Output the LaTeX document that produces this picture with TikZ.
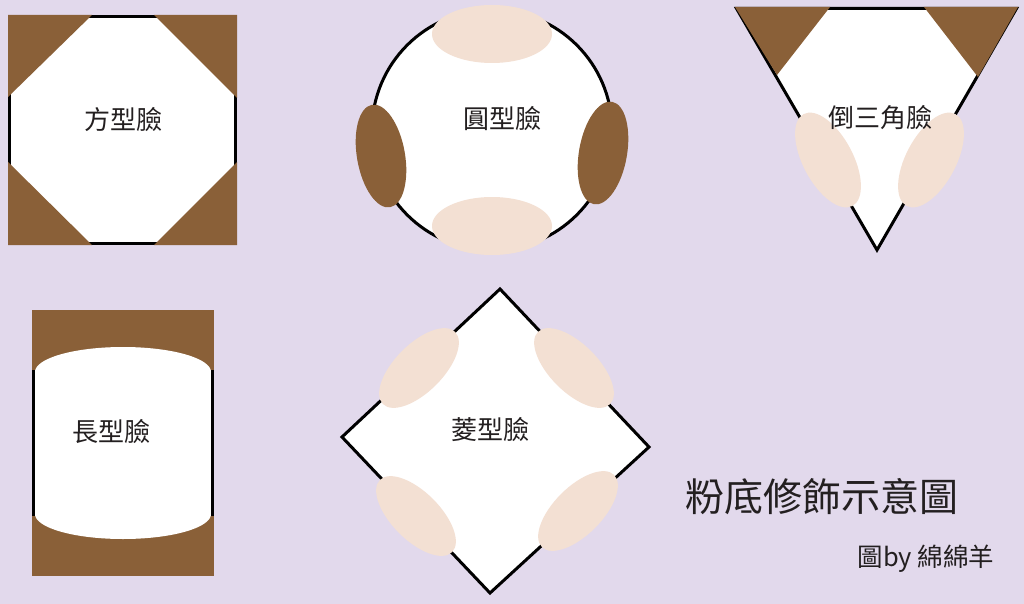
\documentclass[tikz,border=0pt]{standalone}
\usepackage{fontspec}
\setmainfont{Noto Sans CJK TC}
\definecolor{bg}{HTML}{E2D9EC}
\definecolor{brn}{HTML}{8A6038}
\definecolor{pch}{HTML}{F3E0D3}
\definecolor{txt}{HTML}{231F20}
\begin{document}
\begin{tikzpicture}[x=1pt,y=-1pt,
  face/.style={fill=white,draw=black,line width=3pt,line join=miter},
  shade/.style={fill=brn},
  blush/.style={fill=pch},
  lbl/.style={text=txt,font=\fontsize{26}{30}\selectfont,inner sep=0pt},
  title/.style={text=txt,font=\fontsize{39}{44}\selectfont,inner sep=0pt},
  credit/.style={text=txt,font=\fontsize{25.5}{28}\selectfont,inner sep=0pt}]
\fill[bg] (0,0) rectangle (1024,604);
\useasboundingbox (0,0) rectangle (1024,604);

% square face
\draw[face] (9.5,16.5) rectangle (235.5,243.5);
\fill[shade] (8,15) -- (92,15) -- (8,97) -- cycle;
\fill[shade] (154,15) -- (237,15) -- (237,98) -- cycle;
\fill[shade] (8,162) -- (8,245) -- (92,245) -- cycle;
\fill[shade] (237,162) -- (237,245) -- (154,245) -- cycle;
\node[lbl] (sq) at (123,120) {方型臉};

% round face
\draw[face] (492,130) circle [radius=120];
\fill[blush] (492,34) ellipse [x radius=60, y radius=29];
\fill[blush] (492,226) ellipse [x radius=60, y radius=29];
\fill[shade, rotate around={100:(381,156)}] (381,156) ellipse [x radius=52, y radius=24];
\fill[shade, rotate around={80:(603,153)}] (603,153) ellipse [x radius=52, y radius=24];
\node[lbl] (rd) at (502,119) {圓型臉};

% inverted triangle face
\draw[face] (736.5,8.5) -- (1016.5,8.5) -- (877,250) -- cycle;
\fill[shade] (735,7) -- (830,7) -- (777,75) -- cycle;
\fill[shade] (924,7) -- (1018,7) -- (978,77) -- cycle;
\fill[blush, rotate around={-62:(828,160)}] (828,160) ellipse [x radius=52, y radius=25];
\fill[blush, rotate around={62:(931,160)}] (931,160) ellipse [x radius=52, y radius=25];
\node[lbl] (tr) at (880,118) {倒三角臉};

% long face
\fill[shade] (32,310) rectangle (214,576);
\fill[white] (35,370) rectangle (211,516);
\fill[white] (123,372) ellipse [x radius=88, y radius=25];
\fill[white] (123,514) ellipse [x radius=88, y radius=25];
\draw[line width=3pt] (33.5,370) -- (33.5,516);
\draw[line width=3pt] (212.5,370) -- (212.5,516);
\node[lbl] (lg) at (111,432) {長型臉};

% diamond face
\draw[face] (500,289) -- (649,447) -- (490,593) -- (342,437) -- cycle;
\fill[blush, rotate around={45:(419,368)}] (419,368) ellipse [x radius=51, y radius=24];
\fill[blush, rotate around={-45:(574,368)}] (574,368) ellipse [x radius=51, y radius=24];
\fill[blush, rotate around={-45:(416,516)}] (416,516) ellipse [x radius=51, y radius=24];
\fill[blush, rotate around={45:(578,511)}] (578,511) ellipse [x radius=51, y radius=24];
\node[lbl] (dm) at (490,430) {菱型臉};

% titles
\node[title] (ttl) at (822,497) {粉底修飾示意圖};
\node[credit] (cr) at (926,559) {圖by 綿綿羊};
\end{tikzpicture}
\end{document}
